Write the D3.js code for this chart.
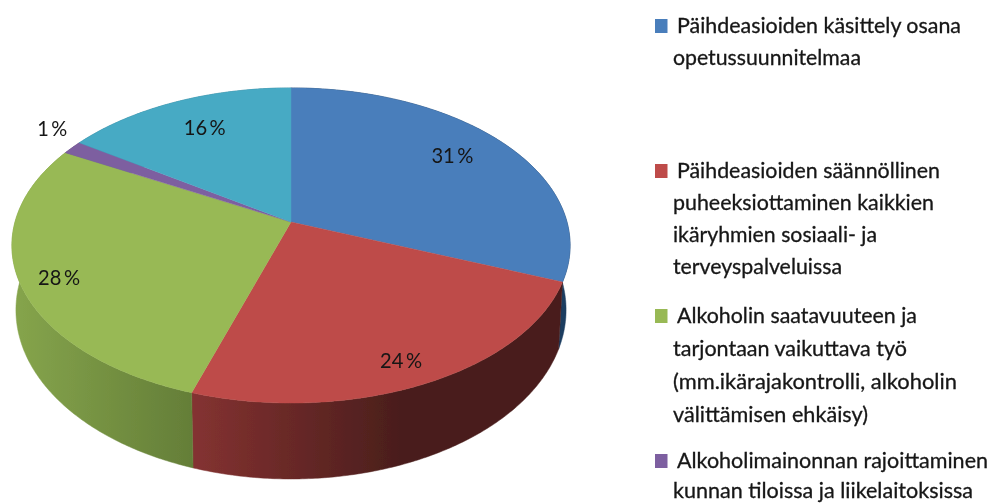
<!DOCTYPE html>
<html lang="fi">
<head>
<meta charset="utf-8">
<script src="https://cdn.jsdelivr.net/npm/d3@7"></script>
<style>
html,body{margin:0;padding:0;background:#fff;overflow:hidden}
svg{display:block}
text{font-family:Lato,"Open Sans",sans-serif;fill:#161616}
text.leg{stroke:#161616;stroke-width:0.3}
</style>
</head>
<body>
<svg id="c" width="995" height="504"></svg>
<script>
// Data
const categories = [
  "Päihdeasioiden käsittely osana opetussuunnitelmaa",
  "Päihdeasioiden säännöllinen puheeksiottaminen kaikkien ikäryhmien sosiaali- ja terveyspalveluissa",
  "Alkoholin saatavuuteen ja tarjontaan vaikuttava työ (mm.ikärajakontrolli, alkoholin välittämisen ehkäisy)",
  "Alkoholimainonnan rajoittaminen kunnan tiloissa ja liikelaitoksissa",
  "Muu"
];
const values = [31, 24, 28, 1.4, 15.6];
const legendLines = [
  ["Päihdeasioiden käsittely osana", "opetussuunnitelmaa"],
  ["Päihdeasioiden säännöllinen", "puheeksiottaminen kaikkien", "ikäryhmien sosiaali-  ja", "terveyspalveluissa"],
  ["Alkoholin saatavuuteen ja", "tarjontaan vaikuttava työ", "(mm.ikärajakontrolli, alkoholin", "välittämisen ehkäisy)"],
  ["Alkoholimainonnan rajoittaminen", "kunnan tiloissa ja liikelaitoksissa"]
];
// Styles and layout
const topColors = ["#4a7ebb", "#be4b48", "#98b954", "#7d5fa0", "#46aac4"];
const sideStops = [
  ["#1b3c60", "#1b3c60"],
  ["#843231", "#4a1e1c"],
  ["#86a54c", "#647e38"],
  ["#5f4879", "#5f4879"],
  ["#2f7c90", "#2f7c90"]
];
const labelRadius = [0.78, 0.865, 0.867, 1.165, 0.761];
const labelTurn = [-2.5, 1.2, -1.4, 3.9, 1.2];
const labelWidth = [42, 42, 42, 30, 42];
const legendTop = [33, 178, 323, 468];
const legendGap = [32, 32, 33, 30];
const legendWidths = [[284, 188], [263, 261, 204, 169], [240, 234, 284, 195], [311, 300]];

const svg = d3.select("#c");
const defs = svg.append("defs");
defs.append("filter").attr("id", "soft").attr("x", "-5%").attr("y", "-5%").attr("width", "110%").attr("height", "110%")
  .append("feGaussianBlur").attr("stdDeviation", 0.45);
const root = svg.append("g").attr("filter", "url(#soft)");

// Perspective projection of the unit disc, angle clockwise from the top
const cx = 291;
const topFace = {A: 276, B: 121, C: 222, k: 0.149};
const bottomFace = {A: 272, B: 122.8, C: 284.8, k: 0.149};
function project(face, angle, r) {
  const u = Math.sin(angle) * r, v = -Math.cos(angle) * r, w = 1 - face.k * v;
  return [cx + face.A * u / w, (face.B * v + face.C) / w];
}
const pie = d3.pie().sort(null).value(d => d)(values);
const line = d3.line();
const sampleArc = d => {
  const n = Math.max(2, Math.ceil((d.endAngle - d.startAngle) / 0.01));
  return d3.range(n + 1).map(i => d.startAngle + (d.endAngle - d.startAngle) * i / n);
};

// Rim, back slices first so the front ones lie on top
pie.forEach((d, i) => {
  const ends = sideStops[i];
  const pts = sampleArc(d).map(a => project(topFace, a, 1));
  const low = sampleArc(d).map(a => project(bottomFace, a, 1));
  const x1 = i === 1 ? 193 : d3.min(pts, p => p[0]);
  const x2 = i === 1 ? 400 : 193;
  const g = defs.append("linearGradient").attr("id", "side" + i)
    .attr("gradientUnits", "userSpaceOnUse")
    .attr("x1", x1).attr("x2", x2).attr("y1", 0).attr("y2", 0);
  g.append("stop").attr("offset", 0).attr("stop-color", ends[0]);
  g.append("stop").attr("offset", 1).attr("stop-color", ends[1]);
  root.append("path")
    .attr("d", line(pts.concat(low.reverse())) + "Z")
    .attr("fill", `url(#side${i})`)
    .attr("stroke", `url(#side${i})`).attr("stroke-width", 0.5);
});

// Top faces
root.selectAll("path.slice").data(pie).join("path").attr("class", "slice")
  .attr("d", d => line([project(topFace, 0, 0)].concat(sampleArc(d).map(a => project(topFace, a, 1)))) + "Z")
  .attr("fill", (d, i) => topColors[i])
  .attr("stroke", (d, i) => topColors[i]).attr("stroke-width", 0.4);

// Percent labels
root.selectAll("text.pct").data(pie).join("text").attr("class", "pct")
  .each(function (d, i) {
    const mid = (d.startAngle + d.endAngle) / 2 + labelTurn[i] * Math.PI / 180;
    const p = project(topFace, mid, labelRadius[i]);
    d3.select(this).attr("x", p[0]).attr("y", p[1] + 8)
      .attr("textLength", labelWidth[i]).attr("lengthAdjust", "spacingAndGlyphs");
  })
  .attr("text-anchor", "middle").attr("font-size", 22)
  .text(d => Math.round(d.value) + "\u2009%");

// Legend
legendLines.forEach((lines, i) => {
  root.append("rect").attr("x", 655).attr("y", legendTop[i] - 14).attr("width", 12.5).attr("height", 14)
    .attr("fill", topColors[i]);
  lines.forEach((t, j) => {
    root.append("text").attr("class", "leg")
      .attr("x", j === 0 ? 677 : 673).attr("y", legendTop[i] + j * legendGap[i])
      .attr("textLength", legendWidths[i][j]).attr("lengthAdjust", "spacingAndGlyphs")
      .attr("font-size", 21.3).text(t);
  });
});
</script>
</body>
</html>
